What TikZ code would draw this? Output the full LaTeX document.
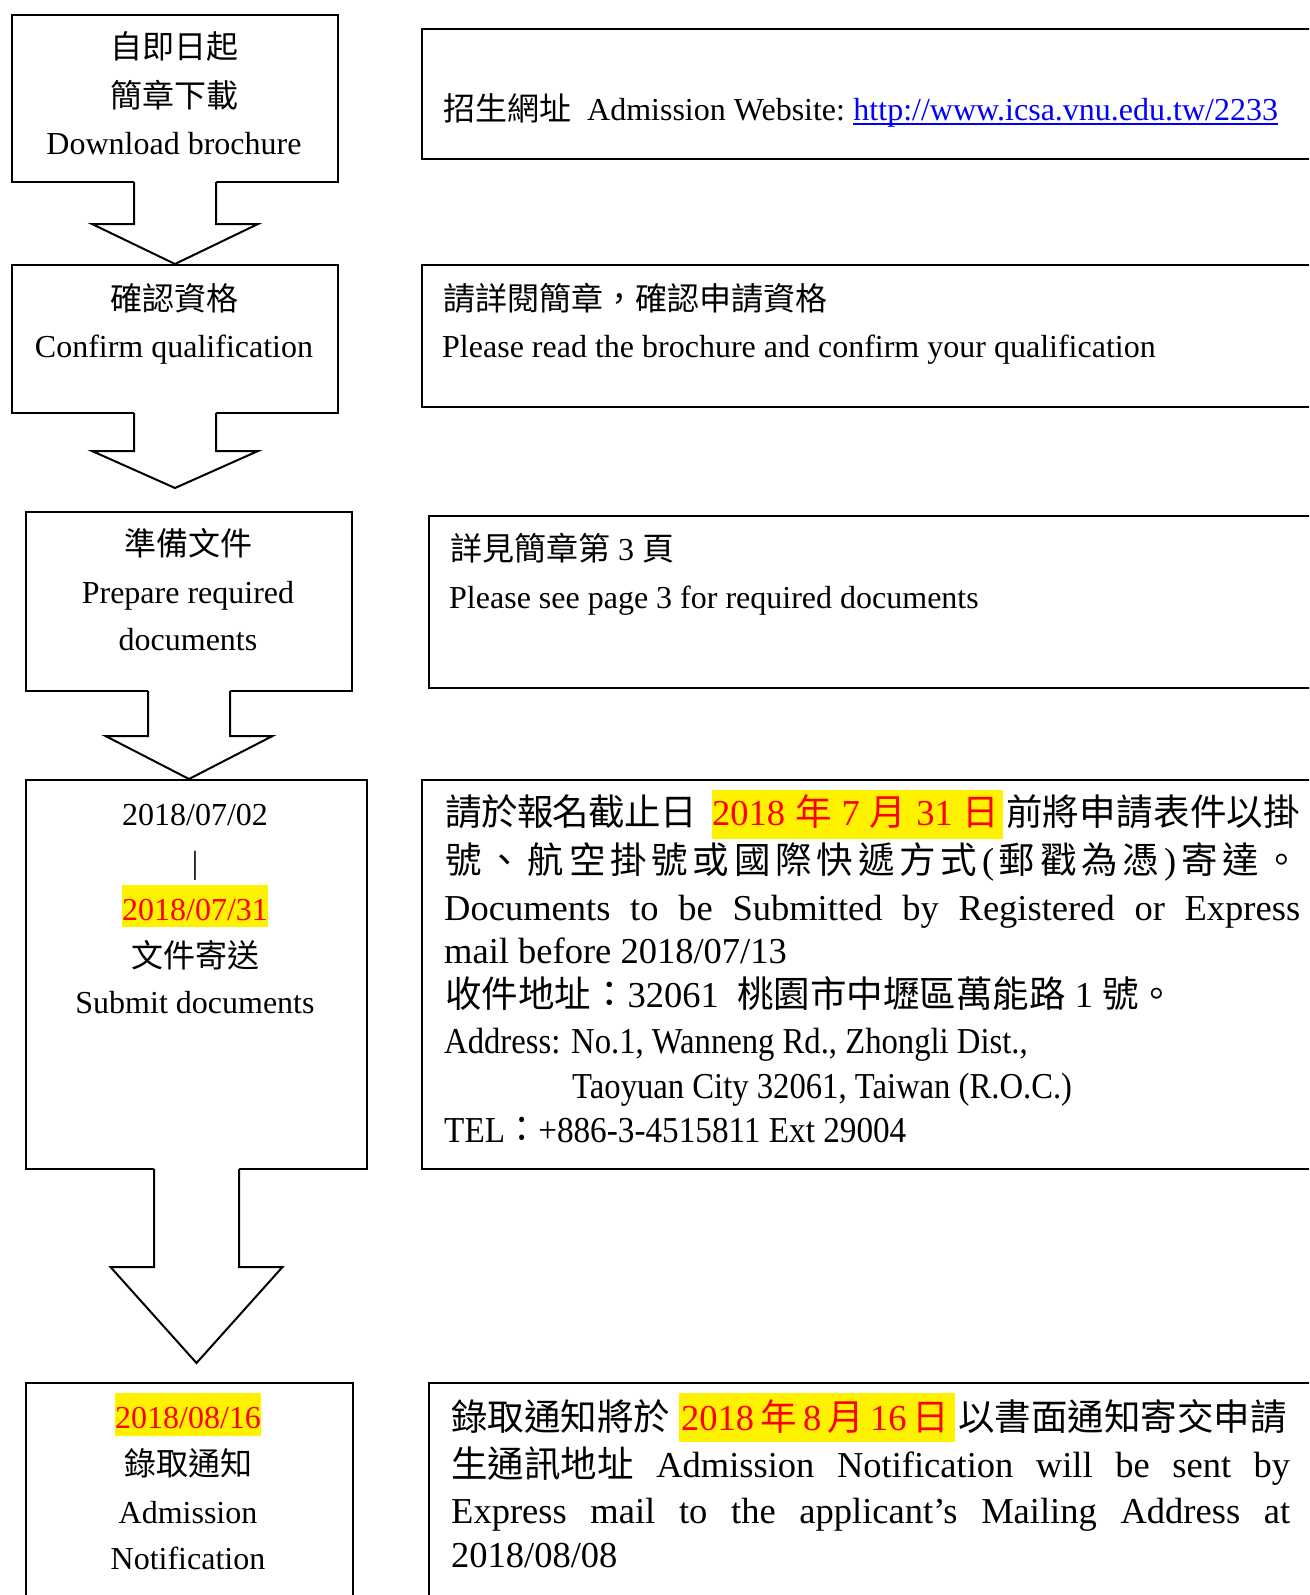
\documentclass[tikz,border=0pt]{standalone}
\usepackage{fontspec}
\usepackage{graphicx}
\usepackage{xcolor}
\setmainfont{Liberation Serif}
\newfontfamily\cjk{Noto Sans CJK TC}
\usetikzlibrary{calc}
\definecolor{linkblue}{RGB}{0,0,255}
\newcommand\gp{\hskip 0pt plus 1fil minus 1fil\relax}
\newcommand\hlw[4]{{\setlength\fboxsep{0pt}\colorbox{yellow}{\color{red}\hbox to #1{\vrule height #2 depth #3 width 0pt\relax #4}}}}
\newcommand\hln[3]{{\setlength\fboxsep{0pt}\colorbox{yellow}{\color{red}\vrule height #1 depth #2 width 0pt\relax #3}}}
\newcommand\blockarrow[5]{%
  \fill[white] ($(#1)+(-#2,-2.5)$) -- ($(#1)+(-#2,#3)$) -- ($(#1)+(-#4,#3)$) -- ($(#5)+(0,-3)$) -- ($(#1)+(#4,#3)$) -- ($(#1)+(#2,#3)$) -- ($(#1)+(#2,-2.5)$) -- cycle;
  \draw[barrow] ($(#1)+(-#2,-1)$) -- ($(#1)+(-#2,#3)$) -- ($(#1)+(-#4,#3)$) -- (#5) -- ($(#1)+(#4,#3)$) -- ($(#1)+(#2,#3)$) -- ($(#1)+(#2,-1)$);}
\tikzset{
  lbox/.style={draw, line width=2pt, inner sep=0pt, anchor=north west},
  rbox/.style={draw, line width=2.2pt, inner sep=0pt, anchor=north west},
  barrow/.style={draw, line width=2pt, line join=miter},
  ltxt/.style={font=\fontsize{32}{38}\selectfont, inner sep=0pt, anchor=base},
  rtxt/.style={font=\fontsize{32}{38}\selectfont, inner sep=0pt, anchor=base west},
  Rtxt/.style={font=\fontsize{36.5}{44}\selectfont, inner sep=0pt, anchor=base west}
}
\begin{document}
\begin{tikzpicture}[x=1pt,y=-1pt]
\useasboundingbox[fill=white] (0,0) rectangle (1309,1595);
\clip (0,0) rectangle (1309,1595);
% left boxes
\node[lbox, minimum width=326pt, minimum height=167pt] (b1) at (11,14) {};
\node[lbox, minimum width=326pt, minimum height=148pt] (b2) at (11,264) {};
\node[lbox, minimum width=326pt, minimum height=179pt] (b3) at (25,511) {};
\node[lbox, minimum width=341pt, minimum height=389pt] (b4) at (25,779) {};
\node[lbox, minimum width=327pt, minimum height=260pt] (b5) at (25,1382) {};
% right boxes
\node[rbox, minimum width=920pt, minimum height=130pt] (r1) at (421,28) {};
\node[rbox, minimum width=920pt, minimum height=142pt] (r2) at (421,264) {};
\node[rbox, minimum width=913pt, minimum height=172pt] (r3) at (428,515) {};
\node[rbox, minimum width=920pt, minimum height=389pt] (r4) at (421,779) {};
\node[rbox, minimum width=913pt, minimum height=260pt] (r5) at (428,1382) {};
% arrow tips
\coordinate (t2) at ($(b2.south)+(0,74)$);
\coordinate (t3) at (b3.south |- b4.north);
\coordinate (t4) at ($(b4.south)+(0,193)$);
\blockarrow{b1.south}{41}{41}{83}{b2.north}
\blockarrow{b2.south}{41}{37}{83}{t2}
\blockarrow{b3.south}{41}{44}{83.5}{t3}
\blockarrow{b4.south}{42.5}{97}{86}{t4}
% left texts
\node[ltxt] (a1) at (174,59) {\cjk 自即日起};
\node[ltxt] (a2) at (174,107) {\cjk 簡章下載};
\node[ltxt] (a3) at (174,154) {Download brochure};
\node[ltxt] (c1) at (174,310) {\cjk 確認資格};
\node[ltxt] (c2) at (174,357) {Confirm qualification};
\node[ltxt] (p1) at (188,555) {\cjk 準備文件};
\node[ltxt] (p2) at (188,603) {Prepare required};
\node[ltxt] (p3) at (188,650) {documents};
\node[ltxt] (s1) at (195,825) {2018/07/02};
\node[ltxt] (s2) at (195,873) {|};
\node[ltxt] (s3) at (195,920) {\hln{35pt}{7pt}{2018/07/31}};
\node[ltxt] (s4) at (195,967) {\cjk 文件寄送};
\node[ltxt] (s5) at (195,1013) {Submit documents};
\node[ltxt] (n1) at (188,1428) {\hln{35pt}{8pt}{2018/08/16}};
\node[ltxt] (n2) at (188,1475) {\cjk 錄取通知};
\node[ltxt] (n3) at (188,1523) {Admission};
\node[ltxt] (n4) at (188,1569) {Notification};
% right texts
\node[rtxt] (w1) at (443,120) {{\cjk 招生網址}\hspace*{16pt}Admission Website:};
\node[rtxt, text=linkblue] (url) at ($(w1.base east)+(8,0)$) {http://www.icsa.vnu.edu.tw/2233};
\draw[linkblue, line width=2pt] ($(url.base west)+(0,4)$) -- ($(url.base east)+(0,4)$);
\node[rtxt] (q1) at (443,310) {\cjk 請詳閱簡章，確認申請資格};
\node[rtxt] (q2) at (442,357) {Please read the brochure and confirm your qualification};
\node[rtxt] (d1) at (450,560) {{\cjk 詳見簡章第}\ 3\ {\cjk 頁}};
\node[rtxt] (d2) at (449,608) {Please see page 3 for required documents};
% R4
\node[Rtxt] (m1) at (445,825) {\hbox to 855pt{\hbox to 252pt{\cjk 請\gp 於\gp 報\gp 名\gp 截\gp 止\gp 日}\kern15pt\hlw{291pt}{35pt}{14pt}{2018\gp{\cjk 年}\gp 7\gp{\cjk 月}\gp 31\gp{\cjk 日}\kern4pt}\kern3pt\hbox to 294pt{\cjk 前\gp 將\gp 申\gp 請\gp 表\gp 件\gp 以\gp 掛}}};
\node[Rtxt] (m2) at (445,873) {\hbox to 855pt{{\cjk 號\gp 、\gp 航\gp 空\gp 掛\gp 號\gp 或\gp 國\gp 際\gp 快\gp 遞\gp 方\gp 式}\gp(\gp{\cjk 郵\gp 戳\gp 為\gp 憑}\gp)\gp{\cjk 寄\gp 達\gp 。}}};
\node[Rtxt] (m3) at (444,920) {\hbox to 856pt{Documents\gp to\gp be\gp Submitted\gp by\gp Registered\gp or\gp Express}};
\node[Rtxt] (m4) at (444,963) {mail before 2018/07/13};
\node[Rtxt] (m5) at (445,1007) {{\cjk 收件地址：}32061\ \ {\cjk 桃園市中壢區萬能路}\ 1\ {\cjk 號。}};
\node[Rtxt] (m6) at (444,1053) {\scalebox{0.895}[1]{Address: No.1, Wanneng Rd., Zhongli Dist.,}};
\node[Rtxt] (m7) at (572,1098) {\scalebox{0.895}[1]{Taoyuan City 32061, Taiwan (R.O.C.)}};
\node[Rtxt] (m8) at (444,1142) {\scalebox{0.91}[1]{TEL{\cjk ：}+886-3-4515811 Ext 29004}};
% R5
\node[Rtxt] (k1) at (451,1430) {{\cjk 錄取通知將於}\kern9pt\hlw{276pt}{37pt}{12pt}{\kern2pt 2018\gp{\cjk 年}\gp 8\gp{\cjk 月}\gp 16\gp{\cjk 日}\kern6pt}\kern3pt{\cjk 以書面通知寄交申請}};
\node[Rtxt] (k2) at (451,1477) {\hbox to 839pt{{\cjk 生通訊地址}\gp Admission\gp Notification\gp will\gp be\gp sent\gp by}};
\node[Rtxt] (k3) at (451,1523) {\hbox to 839pt{Express\gp mail\gp to\gp the\gp applicant’s\gp Mailing\gp Address\gp at}};
\node[Rtxt] (k4) at (451,1567) {2018/08/08};
\end{tikzpicture}
\end{document}
